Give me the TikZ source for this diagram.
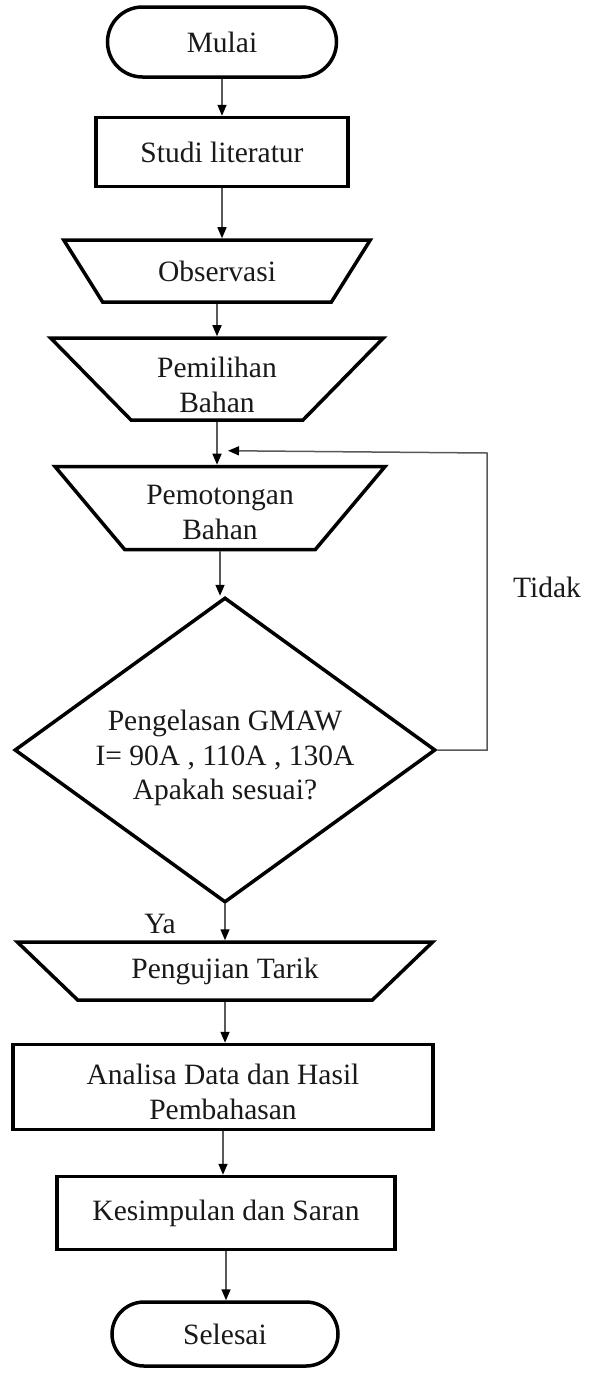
\documentclass[tikz,border=0pt]{standalone}
\usepackage{fontspec}
\setmainfont{Liberation Serif}
\usetikzlibrary{shapes.geometric,shapes.misc,arrows.meta,calc}
\newcommand{\lowered}[2]{\raisebox{-#1}[\height][\depth]{\begin{tabular}{@{}c@{}}#2\end{tabular}}}
\begin{document}
\begin{tikzpicture}[x=1pt,y=1pt,
  every node/.style={font=\rmfamily\fontsize{29.5}{34.5}\selectfont, text=black!90, align=center},
  box/.style={draw, line width=3.5pt, rectangle, inner sep=0pt},
  term/.style={draw, line width=3.5pt, rounded rectangle, inner sep=0pt},
  io/.style={draw, line width=3.5pt, trapezium, trapezium stretches=true, shape border rotate=180, inner sep=0pt},
  dec/.style={draw, line width=3.5pt, diamond, inner sep=0pt},
  arr/.style={draw=black!65, line width=1.5pt, -{Triangle[length=11pt,width=9pt,color=black]}}
]
\useasboundingbox (0,0) rectangle (589,-1374);
\fill[white] (0,0) rectangle (589,-1374);

\node[term, minimum width=229, minimum height=70] (start) at (222,-42) {Mulai};
\node[box, minimum width=252, minimum height=69] (studi) at (222,-152) {Studi literatur};
\node[io, minimum width=307, minimum height=62, trapezium left angle=46, trapezium right angle=46] (obs) at (217,-271) {Observasi};
\node[io, minimum width=333, minimum height=82, trapezium left angle=51, trapezium right angle=51] (pemil) at (217,-379) {\lowered{9pt}{Pemilihan\\Bahan}};
\node[io, minimum width=331, minimum height=83, trapezium left angle=52, trapezium right angle=52] (pemot) at (220,-508) {\lowered{7pt}{Pemotongan\\Bahan}};
\node[dec, minimum width=421, minimum height=305] (dia) at (225,-750) {};
\node (diatext) at ([yshift=-8pt]dia.center) {Pengelasan GMAW\\I= 90A , 110A , 130A\\Apakah sesuai?};
\node[io, minimum width=416, minimum height=58, trapezium left angle=35, trapezium right angle=35] (uji) at (225,-971) {Pengujian Tarik};
\node[box, minimum width=420, minimum height=85] (anal) at (223,-1087) {\lowered{8pt}{Analisa Data dan Hasil\\Pembahasan}};
\node[box, minimum width=338, minimum height=73] (kes) at (226,-1213) {Kesimpulan dan Saran};
\node[term, minimum width=226, minimum height=64] (end) at (225,-1334) {Selesai};

\node (tidak) at (547,-587) {Tidak};
\node (ya) at (160,-924) {Ya};

\draw[arr] (start.south) -- (start.south |- studi.north);
\draw[arr] (studi.south) -- (studi.south |- obs.north);
\draw[arr] (obs.south) -- (obs.south |- pemil.north);
\draw[arr] (pemil.south) -- (pemil.south |- pemot.north);
\draw[arr] (pemot.south) -- (pemot.south |- dia.north);
\draw[arr] (dia.south) -- (dia.south |- uji.north);
\draw[arr] (uji.south) -- (uji.south |- anal.north);
\draw[arr] (anal.south) -- (anal.south |- kes.north);
\draw[arr] (kes.south) -- (kes.south |- end.north);

\coordinate (fbcorner) at (487,-453);
\coordinate (fbtip) at ($(pemil.south |- pemot.north)+(11,14)$);
\draw[arr] (dia.east) -| (fbcorner) -- (fbtip);
\end{tikzpicture}
\end{document}
